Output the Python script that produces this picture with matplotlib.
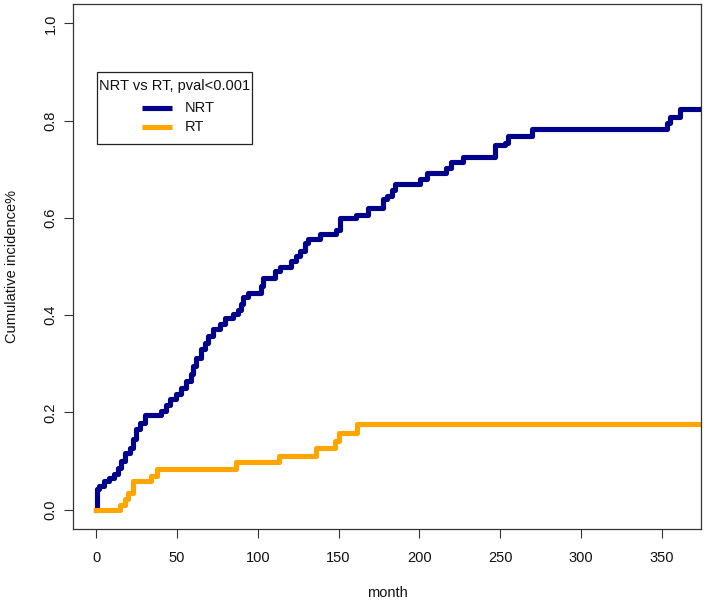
import numpy as np
import matplotlib

matplotlib.use("Agg")

import matplotlib.pyplot as plt
from matplotlib.lines import Line2D
from matplotlib.patches import Rectangle

plt.rcParams["font.family"] = ["Liberation Sans", "DejaVu Sans"]

# cumulative incidence (time in months, value after each jump)
nrt_time = [0, 0.3, 0.6, 2, 5, 8, 11, 13.4, 15.5, 17.5, 20.6, 22.7, 24.8, 26.8,
            29.9, 40, 43.4, 45.4, 49.6, 52.7, 55.8, 58.9, 59.9, 62, 65.1, 67.1,
            69.1, 72.2, 76.4, 79.5, 84.6, 87.7, 89.8, 90.8, 93.9, 102.2, 103.2,
            110.5, 113.6, 120.8, 123.9, 126, 129, 131.1, 138.4, 148.7, 150.7,
            161.1, 168.3, 177.6, 179.7, 182.8, 184.8, 200.3, 204.5, 216.8, 219.9,
            227.1, 246.8, 253, 255, 269.5, 353.2, 355.2, 361.4, 375]
nrt_value = [0.0, 0.02, 0.042, 0.049, 0.058, 0.064, 0.073, 0.086, 0.100, 0.117,
             0.127, 0.145, 0.166, 0.178, 0.194, 0.203, 0.216, 0.227, 0.237, 0.251,
             0.264, 0.278, 0.295, 0.312, 0.330, 0.343, 0.357, 0.371, 0.381, 0.395,
             0.403, 0.410, 0.422, 0.437, 0.446, 0.460, 0.476, 0.490, 0.500, 0.511,
             0.521, 0.532, 0.549, 0.556, 0.566, 0.576, 0.600, 0.606, 0.621, 0.638,
             0.645, 0.658, 0.669, 0.679, 0.693, 0.703, 0.716, 0.726, 0.750, 0.754,
             0.769, 0.782, 0.795, 0.808, 0.823, 0.823]

rt_time = [0, 14.9, 17.5, 19.6, 22.7, 34.1, 37.6, 86.7, 113, 135.9, 147.6, 150.1, 161.5, 375]
rt_value = [0.0, 0.010, 0.021, 0.035, 0.059, 0.070, 0.083, 0.097, 0.111, 0.126,
            0.141, 0.158, 0.175, 0.175]

groups = ["NRT", "RT"]
group_colors = ["#00008B", "#FFA500"]
legend_title = "NRT vs RT, pval<0.001"

x_ticks = [0, 50, 100, 150, 200, 250, 300, 350]
y_ticks = [0.0, 0.2, 0.4, 0.6, 0.8, 1.0]
y_tick_labels = ["0.0", "0.2", "0.4", "0.6", "0.8", "1.0"]

W, H = 709, 603


def px(x, y):
    # pixel position (from top-left) -> figure fraction
    return x / W, 1 - y / H


fig = plt.figure(figsize=(W / 100, H / 100), dpi=100)
ax = fig.add_axes([73 / W, 1 - 529 / H, 628 / W, 525 / H])

ax.step(nrt_time, nrt_value, where="post", color=group_colors[0], linewidth=3.7)
ax.step(rt_time, rt_value, where="post", color=group_colors[1], linewidth=3.7)

ax.set_xlim(-14.4, 374.4)
ax.set_ylim(-0.04, 1.04)

ax.set_xticks(x_ticks)
ax.set_yticks(y_ticks)
ax.set_yticklabels(y_tick_labels, rotation=90, va="center")

for spine in ax.spines.values():
    spine.set_color("#333333")
    spine.set_linewidth(0.9)

ax.tick_params(direction="out", length=6.5, width=0.8, color="#333333",
               labelsize=10.5, labelcolor="#111111")
ax.tick_params(axis="x", pad=9)
ax.tick_params(axis="y", pad=4.5)

fig.text(*px(12, 266.5), "Cumulative incidence%", rotation=90,
         ha="center", va="center", fontsize=10.5, color="#111111")
fig.text(*px(387, 593.3), "month", ha="center", va="center",
         fontsize=10.5, color="#111111")

# legend drawn the way R's legend() lays it out
x0, y0 = px(96.7, 144)
x1, y1 = px(252.3, 72.3)
fig.add_artist(Rectangle((x0, y0), x1 - x0, y1 - y0, transform=fig.transFigure,
                         facecolor="white", edgecolor="#222222", linewidth=0.9,
                         zorder=5))
fig.text(*px(174.5, 86), legend_title, ha="center", va="center",
         fontsize=10.5, color="#111111", zorder=6)

entry_y = [108.3, 126.7]
for name, color, yy in zip(groups, group_colors, entry_y):
    lx0, ly = px(141.7, yy)
    lx1, _ = px(171.7, yy)
    fig.add_artist(Line2D([lx0, lx1], [ly, ly], transform=fig.transFigure,
                          color=color, linewidth=3.7, solid_capstyle="butt",
                          zorder=6))
    fig.text(*px(184.3, yy), name, ha="left", va="center",
             fontsize=10.5, color="#111111", zorder=6)

fig.savefig("out.png", dpi=100)
